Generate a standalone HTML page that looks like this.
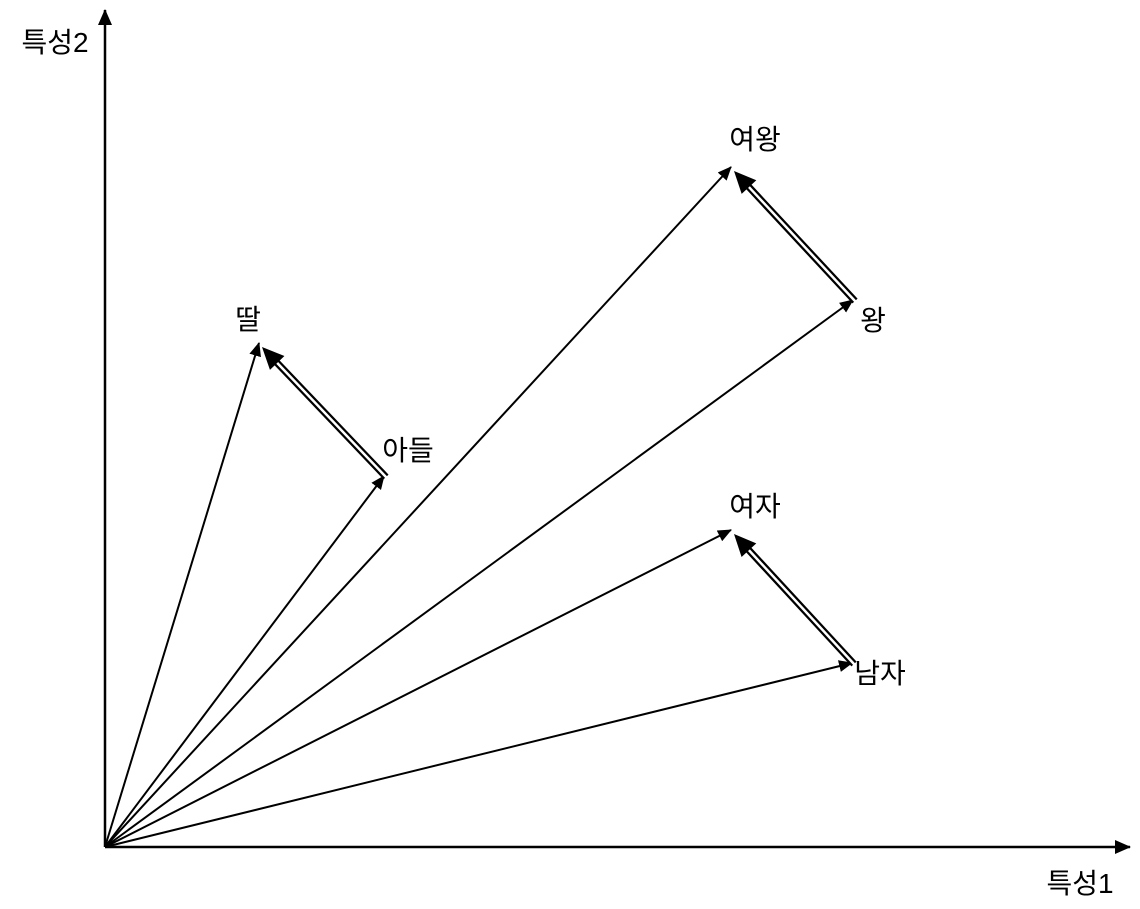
<!DOCTYPE html>
<html><head><meta charset="utf-8"><style>
html,body{margin:0;padding:0;background:#fff;}
svg text{font-family:"Liberation Sans","Noto Sans CJK KR",sans-serif;font-size:28px;fill:#000;}
</style></head><body>
<svg id="chart" width="1140" height="904" viewBox="0 0 1140 904" xmlns="http://www.w3.org/2000/svg">
<defs>
<marker id="ah" markerWidth="14" markerHeight="12" refX="13" refY="6" orient="auto" markerUnits="userSpaceOnUse"><path d="M0,0 L14,6 L0,12 z" fill="#000"/></marker>
<marker id="axh" markerWidth="16" markerHeight="14" refX="15" refY="7" orient="auto" markerUnits="userSpaceOnUse"><path d="M0,0 L16,7 L0,14 z" fill="#000"/></marker>
</defs>
<g id="axes">
<line x1="105" y1="847" x2="1130" y2="847" stroke="#000" stroke-width="2.5" marker-end="url(#axh)"/>
<line x1="105" y1="847" x2="105" y2="10" stroke="#000" stroke-width="2.5" marker-end="url(#axh)"/>
<text x="1080" y="893" text-anchor="middle">특성1</text>
<text x="55" y="52" text-anchor="middle">특성2</text>
</g>
<g id="marks"></g>
</svg>
<script>
const words = ["딸","아들","여왕","왕","여자","남자"];
const xVals = [1.54, 2.79, 6.26, 7.48, 6.26, 7.47];
const yVals = [5.04, 3.71, 6.80, 5.47, 3.17, 1.84];
const labelDx = [-11, 24, 24, 20, 24, 28];
const labelDy = [-14, -16, -18, 30, -14, 20];
const pairs = [[1,0],[3,2],[5,4]];
const X0 = 105, Y0 = 847, S = 100;
function sx(v){return X0 + v*S;}
function sy(v){return Y0 - v*S;}
const NS = "http://www.w3.org/2000/svg";
const g = document.getElementById("marks");
function mk(tag, attrs){const e=document.createElementNS(NS,tag);for(const k in attrs)e.setAttribute(k,attrs[k]);return e;}
words.forEach((w,i)=>{
  const l = mk("line",{x1:X0,y1:Y0,x2:sx(xVals[i]),y2:sy(yVals[i]),stroke:"#000","stroke-width":2,"marker-end":"url(#ah)"});
  
  
  g.appendChild(l);
  const t = mk("text",{x:sx(xVals[i])+labelDx[i],y:sy(yVals[i])+labelDy[i],"text-anchor":"middle"});
  t.textContent = w;
  
  
  g.appendChild(t);
});
pairs.forEach(([a,b],j)=>{
  const x1=sx(xVals[a])+2,y1=sy(yVals[a])+1,x2=sx(xVals[b])+3,y2=sy(yVals[b])+4;
  const dx=x2-x1,dy=y2-y1,L=Math.hypot(dx,dy);
  const ex=x2-dx/L*18, ey=y2-dy/L*18;
  const outer = mk("line",{x1:x1,y1:y1,x2:ex,y2:ey,stroke:"#000","stroke-width":7});
  
  
  g.appendChild(outer);
  const inner = mk("line",{x1:x1-dx/L*1,y1:y1-dy/L*1,x2:ex,y2:ey,stroke:"#fff","stroke-width":2.5});
  
  
  g.appendChild(inner);
  const hp = mk("path",{d:"",fill:"#000"});
  const px=-dy/L, py=dx/L, bx=x2-dx/L*22, by=y2-dy/L*22;
  hp.setAttribute("d",`M${x2},${y2} L${bx+px*10},${by+py*10} L${bx-px*10},${by-py*10} Z`);
  
  
  g.appendChild(hp);
});
</script>
</body></html>
